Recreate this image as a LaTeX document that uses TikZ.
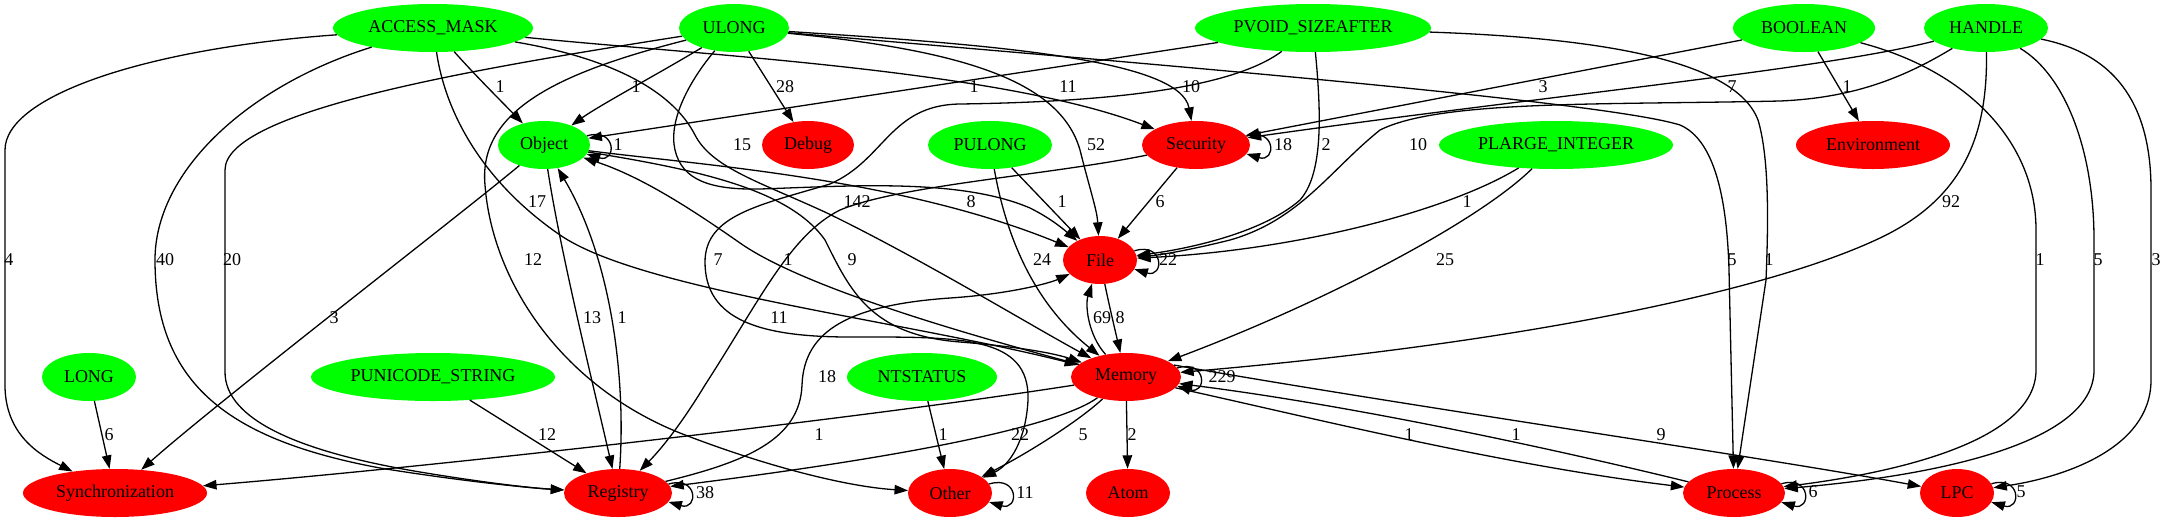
\documentclass[tikz,border=0pt]{standalone}
\usepackage{fontspec}
\setmainfont{Liberation Serif}
\usetikzlibrary{arrows.meta,shapes.geometric}
\definecolor{ngreen}{RGB}{0,255,0}
\definecolor{nred}{RGB}{255,0,0}
\newcommand{\myloop}[2]{\draw[edg] (#1.#2) .. controls +(30,-9) and +(30,9) .. (#1.-#2);}
\begin{document}
\begin{tikzpicture}[x=1pt,y=-1pt,
  every node/.style={font=\fontsize{18}{20}\selectfont},
  gnode/.style={ellipse, fill=ngreen, inner sep=0pt, minimum height=48pt},
  rnode/.style={ellipse, fill=nred, inner sep=0pt, minimum height=48pt},
  lbl/.style={inner sep=0pt},
  edg/.style={draw=black, line width=1.3pt, -{Triangle[length=13.5pt,width=9.5pt]}},
]
\useasboundingbox (0,0) rectangle (2167,523);
% nodes
\node[gnode, minimum width=200pt] (AM) at (433,28) {ACCESS\_MASK};
\node[gnode, minimum width=110pt] (ULONG) at (734,28) {ULONG};
\node[gnode, minimum width=236pt] (PVOID) at (1313,28) {PVOID\_SIZEAFTER};
\node[gnode, minimum width=142pt] (BOOLEAN) at (1804,28) {BOOLEAN};
\node[gnode, minimum width=124pt] (HANDLE) at (1986,28) {HANDLE};
\node[gnode, minimum width=92pt] (Object) at (544,145) {Object};
\node[rnode, minimum width=92pt] (Debug) at (808,145) {Debug};
\node[gnode, minimum width=124pt] (PULONG) at (990,145) {PULONG};
\node[rnode, minimum width=108pt] (Security) at (1196,145) {Security};
\node[gnode, minimum width=234pt] (PLARGE) at (1556,145) {PLARGE\_INTEGER};
\node[rnode, minimum width=154pt] (Environment) at (1873,145) {Environment};
\node[rnode, minimum width=74pt] (File) at (1100,260) {File};
\node[gnode, minimum width=94pt] (LONG) at (89,377) {LONG};
\node[gnode, minimum width=244pt] (PUNICODE) at (433,377) {PUNICODE\_STRING};
\node[gnode, minimum width=150pt] (NTSTATUS) at (922,377) {NTSTATUS};
\node[rnode, minimum width=110pt] (Memory) at (1126,377) {Memory};
\node[rnode, minimum width=184pt] (Sync) at (115,493) {Synchronization};
\node[rnode, minimum width=108pt] (Registry) at (618,493) {Registry};
\node[rnode, minimum width=84pt] (Other) at (950,493) {Other};
\node[rnode, minimum width=84pt] (Atom) at (1128,493) {Atom};
\node[rnode, minimum width=102pt] (Process) at (1734,493) {Process};
\node[rnode, minimum width=74pt] (LPC) at (1957,493) {LPC};

% edges from the top row
\draw[edg] (AM) .. controls (475,75) and (500,100) .. (Object);
\draw[edg] (ULONG) .. controls (665,70) and (600,105) .. (Object);
\draw[edg] (ULONG) -- (Debug);
\draw[edg] (PVOID) -- (Object);
\draw[edg] (AM) .. controls (700,55) and (1000,70) .. (Security);
\draw[edg] (ULONG) .. controls (1000,45) and (1180,60) .. (Security);
\draw[edg] (BOOLEAN) -- (Security);
\draw[edg] (HANDLE) .. controls (1820,70) and (1550,95) .. (Security);
\draw[edg] (BOOLEAN) -- (Environment);
\draw[edg] (ULONG) .. controls (690,80) and (668,120) .. (675,150) .. controls (682,180) and (710,190) .. (760,189) .. controls (850,186) and (960,178) .. (1030,208) .. controls (1050,218) and (1062,228) .. (File);
\draw[edg] (ULONG) .. controls (960,50) and (1060,80) .. (1080,150) .. controls (1090,190) and (1097,210) .. (File);
\draw[edg] (PVOID) .. controls (1322,120) and (1322,175) .. (1300,200) .. controls (1260,235) and (1180,250) .. (File);
\draw[edg] (HANDLE) .. controls (1900,80) and (1850,98) .. (1780,101) .. controls (1600,105) and (1440,100) .. (1380,130) .. controls (1330,170) and (1300,220) .. (1230,240) .. controls (1190,250) and (1160,255) .. (File);
\draw[edg] (AM) .. controls (445,110) and (480,180) .. (560,235) .. controls (640,290) and (900,320) .. (Memory);
\draw[edg] (AM) .. controls (610,58) and (672,90) .. (695,135) .. controls (712,168) and (760,182) .. (827,213) .. controls (920,258) and (1030,325) .. (Memory);
\draw[edg] (HANDLE) .. controls (1988,140) and (1960,200) .. (1880,238) .. controls (1760,295) and (1500,345) .. (Memory);
\draw[edg] (AM) .. controls (150,48) and (5,95) .. (5,150) -- (5,385) .. controls (5,435) and (40,455) .. (Sync);
\draw[edg] (AM) .. controls (250,85) and (155,170) .. (155,260) .. controls (155,385) and (230,440) .. (380,468) .. controls (460,481) and (530,488) .. (Registry);
\draw[edg] (ULONG) .. controls (480,68) and (225,110) .. (225,170) -- (225,372) .. controls (225,420) and (300,452) .. (420,472) .. controls (480,482) and (530,488) .. (Registry);
\draw[edg] (ULONG) .. controls (560,72) and (478,110) .. (485,185) .. controls (492,280) and (560,385) .. (680,433) .. controls (770,468) and (850,487) .. (Other);
\draw[edg] (PVOID) .. controls (1230,90) and (1100,102) .. (960,104) .. controls (890,105) and (885,160) .. (830,184) .. controls (760,205) and (705,215) .. (705,262) .. controls (705,320) and (760,337) .. (850,337) .. controls (960,337) and (1030,335) .. (1028,400) .. controls (1026,440) and (1010,465) .. (Other);
\draw[edg] (ULONG) .. controls (1100,60) and (1600,100) .. (1680,125) .. controls (1715,140) and (1727,200) .. (1729,270) -- (Process);
\draw[edg] (PVOID) .. controls (1600,38) and (1735,60) .. (1758,120) .. controls (1770,160) and (1768,230) .. (1766,280) -- (Process);
\draw[edg] (BOOLEAN) .. controls (1965,70) and (2036,140) .. (2036,230) -- (2036,370) .. controls (2036,440) and (1900,472) .. (Process);
\draw[edg] (HANDLE) .. controls (2065,75) and (2094,150) .. (2094,240) -- (2094,370) .. controls (2094,445) and (1930,476) .. (Process);
\draw[edg] (HANDLE) .. controls (2120,55) and (2151,110) .. (2151,190) -- (2151,380) .. controls (2151,450) and (2060,478) .. (LPC);

% edges from the second row
\draw[edg] (Object) .. controls (700,165) and (900,178) .. (File);
\draw[edg] (PULONG) -- (File);
\draw[edg] (Security) -- (File);
\draw[edg] (PLARGE) .. controls (1450,210) and (1300,250) .. (File);
\draw[edg] (Memory) .. controls (950,330) and (800,285) .. (740,243) .. controls (690,208) and (640,176) .. (Object);
\draw[edg] (Object) .. controls (700,170) and (790,190) .. (825,240) .. controls (850,290) and (870,335) .. (960,342) .. controls (1010,346) and (1050,352) .. (Memory);
\draw[edg] (PULONG) .. controls (1005,230) and (1030,300) .. (Memory);
\draw[edg] (PLARGE) .. controls (1480,220) and (1330,300) .. (Memory);
\draw[edg] (Object) .. controls (460,215) and (220,400) .. (Sync);
\draw[edg] (Object) .. controls (560,250) and (592,380) .. (Registry);
\draw[edg] (Registry) .. controls (626,380) and (612,260) .. (Object);
\draw[edg] (Security) .. controls (1050,175) and (900,185) .. (840,210) .. controls (790,235) and (760,300) .. (705,385) .. controls (685,418) and (665,445) .. (Registry);
\draw[edg] (Memory) .. controls (1088,335) and (1085,305) .. (File);
\draw[edg] (File) .. controls (1108,300) and (1115,330) .. (Memory);
\draw[edg] (Registry) .. controls (745,462) and (800,440) .. (802,385) .. controls (804,330) and (850,305) .. (950,298) .. controls (1010,294) and (1050,283) .. (File);

% lower edges
\draw[edg] (LONG) -- (Sync);
\draw[edg] (PUNICODE) -- (Registry);
\draw[edg] (Memory) .. controls (850,420) and (420,468) .. (Sync);
\draw[edg] (NTSTATUS) -- (Other);
\draw[edg] (Memory) .. controls (1060,425) and (920,455) .. (Registry);
\draw[edg] (Memory) .. controls (1080,420) and (1030,452) .. (Other);
\draw[edg] (Memory) -- (Atom);
\draw[edg] (Memory) .. controls (1300,415) and (1500,465) .. (Process);
\draw[edg] (Process) .. controls (1550,448) and (1350,405) .. (Memory);
\draw[edg] (Memory.14) .. controls (1400,405) and (1750,455) .. (LPC);

% self loops
\myloop{Object}{12}
\myloop{Security}{10}
\myloop{File}{15}
\myloop{Memory}{10}
\myloop{Registry}{10}
\myloop{Other}{13}
\myloop{Process}{11}
\myloop{LPC}{15}

% labels
\node[lbl] (a1) at (500,87) {1};
\node[lbl] (a2) at (636,87) {1};
\node[lbl] (a3) at (785,87) {28};
\node[lbl] (a4) at (974,87) {1};
\node[lbl] (a5) at (1068,87) {11};
\node[lbl] (a6) at (1191,87) {10};
\node[lbl] (a7) at (1543,87) {3};
\node[lbl] (a8) at (1732,87) {7};
\node[lbl] (a9) at (1847,87) {1};
\node[lbl] (b1) at (618,145) {1};
\node[lbl] (b2) at (742,145) {15};
\node[lbl] (b3) at (1096,145) {52};
\node[lbl] (b4) at (1283,145) {18};
\node[lbl] (b5) at (1326,145) {2};
\node[lbl] (b6) at (1418,145) {10};
\node[lbl] (c1) at (537,202) {17};
\node[lbl] (c2) at (857,202) {142};
\node[lbl] (c3) at (971,202) {8};
\node[lbl] (c4) at (1062,202) {1};
\node[lbl] (c5) at (1160,202) {6};
\node[lbl] (c6) at (1467,202) {1};
\node[lbl] (c7) at (1951,202) {92};
\node[lbl] (d1) at (9,260) {4};
\node[lbl] (d2) at (165,260) {40};
\node[lbl] (d3) at (232,260) {20};
\node[lbl] (d4) at (533,260) {12};
\node[lbl] (d5) at (718,260) {7};
\node[lbl] (d6) at (788,260) {1};
\node[lbl] (d7) at (852,260) {9};
\node[lbl] (d8) at (1042,260) {24};
\node[lbl] (d9) at (1168,260) {22};
\node[lbl] (d10) at (1445,260) {25};
\node[lbl] (d11) at (1732,260) {5};
\node[lbl] (d12) at (1769,260) {1};
\node[lbl] (d13) at (2040,260) {1};
\node[lbl] (d14) at (2098,260) {5};
\node[lbl] (d15) at (2156,260) {3};
\node[lbl] (f1) at (334,318) {3};
\node[lbl] (f2) at (592,318) {13};
\node[lbl] (f3) at (622,318) {1};
\node[lbl] (f4) at (779,318) {11};
\node[lbl] (f5) at (1102,318) {69};
\node[lbl] (f6) at (1120,318) {8};
\node[lbl] (g1) at (827,377) {18};
\node[lbl] (g2) at (1222,377) {229};
\node[lbl] (h1) at (109,435) {6};
\node[lbl] (h2) at (547,435) {12};
\node[lbl] (h3) at (819,435) {1};
\node[lbl] (h4) at (943,435) {1};
\node[lbl] (h5) at (1020,435) {22};
\node[lbl] (h6) at (1083,435) {5};
\node[lbl] (h7) at (1132,435) {2};
\node[lbl] (h8) at (1409,435) {1};
\node[lbl] (h9) at (1516,435) {1};
\node[lbl] (h10) at (1661,435) {9};
\node[lbl] (k1) at (705,493) {38};
\node[lbl] (k2) at (1025,493) {11};
\node[lbl] (k3) at (1813,492) {6};
\node[lbl] (k4) at (2021,492) {5};
\end{tikzpicture}
\end{document}
